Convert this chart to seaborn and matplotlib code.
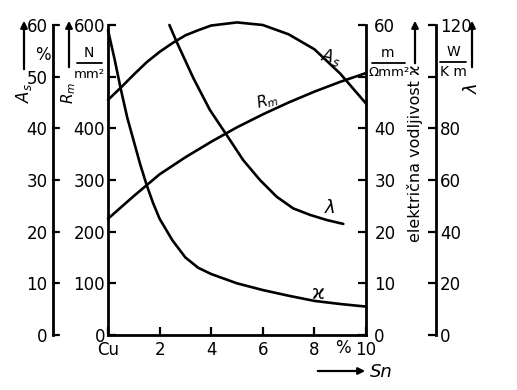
import matplotlib
matplotlib.use("Agg")
import matplotlib.pyplot as plt
from matplotlib.lines import Line2D
import seaborn as sns

# === DATA ===
sn_as = [0, 0.5, 1, 1.5, 2, 2.5, 3, 3.5, 4, 5, 6, 7, 8, 9, 9.5, 10]
as_vals = [45.5, 47.9, 50.4, 52.8, 54.8, 56.5, 58, 59, 59.9, 60.5, 60, 58.2, 55.3, 50.6, 47.7, 44.8]

sn_rm = [0, 1, 2, 3, 4, 5, 6, 7, 8, 9, 10]
rm_vals = [225, 269, 311, 344, 374, 402, 427, 450, 471, 490, 507]

sn_kappa = [0, 0.25, 0.5, 0.75, 1, 1.25, 1.5, 1.75, 2, 2.5, 3, 3.5, 4, 5, 6, 7, 8, 9, 10]
kappa_vals = [59, 53.5, 47.5, 42, 37.5, 33, 29, 25.5, 22.5, 18.3, 15, 13, 11.8, 10, 8.7, 7.6, 6.6, 6.0, 5.5]

sn_lambda = [2.38, 2.66, 3.31, 3.95, 4.6, 5.24, 5.89, 6.54, 7.18, 7.83, 8.48, 9.12]
lambda_vals = [120, 113.5, 99.4, 87.1, 77.4, 67.7, 60, 53.5, 49, 46.5, 44.5, 43]

x_ticks = [0, 2, 4, 6, 8, 10]
x_labels = ["Cu", "2", "4", "6", "8", "10"]

# === STYLE ===
sns.set_style("ticks")
plt.rcParams["font.family"] = ["DejaVu Sans"]
plt.rcParams["mathtext.fontset"] = "dejavusans"
plt.rcParams["text.color"] = "black"
plt.rcParams["axes.edgecolor"] = "black"
plt.rcParams["xtick.color"] = "black"
plt.rcParams["ytick.color"] = "black"

W, H = 517, 390
def fx(px):
    return px / W
def fy(py):
    return 1 - py / H

fig = plt.figure(figsize=(5.17, 3.90), dpi=100)
fig.patch.set_facecolor("white")

# main axes: x = Sn %, left scale = Rm
ax = fig.add_axes([fx(108), fy(335), 258 / W, 310 / H])
ax_k = ax.twinx()
ax_l = ax.twinx()
ax_a = ax.twinx()

line_kw = dict(color="black", linewidth=1.9, clip_on=False)
sns.lineplot(x=sn_rm, y=rm_vals, ax=ax, **line_kw)
sns.lineplot(x=sn_kappa, y=kappa_vals, ax=ax_k, **line_kw)
sns.lineplot(x=sn_lambda, y=lambda_vals, ax=ax_l, **line_kw)
sns.lineplot(x=sn_as, y=as_vals, ax=ax_a, **line_kw)

ax.set_xlim(0, 10)
ax.set_ylim(0, 600)
ax_k.set_ylim(0, 60)
ax_l.set_ylim(0, 120)
ax_a.set_ylim(0, 60)

for a in (ax, ax_k, ax_l, ax_a):
    a.set_xlabel("")
    a.set_ylabel("")
    for s in a.spines.values():
        s.set_visible(False)
        s.set_linewidth(2)
        s.set_color("black")
    a.patch.set_visible(False)

tick_kw = dict(direction="in", length=6, width=1.6, labelsize=12,
               colors="black", labelcolor="black")

# Rm axis (left of plot) + Sn axis; the 500 label is replaced by the unit
ax.spines["left"].set_visible(True)
ax.spines["bottom"].set_visible(True)
ax.set_yticks(range(0, 601, 100))
ax.set_yticklabels(["0", "100", "200", "300", "400", "", "600"])
ax.tick_params(axis="y", pad=2, **tick_kw)
ax.set_xticks(x_ticks)
ax.set_xticklabels(x_labels)
ax.tick_params(axis="x", pad=4, **tick_kw)

# kappa axis (right of plot)
ax_k.spines["right"].set_visible(True)
ax_k.set_yticks(range(0, 61, 10))
ax_k.set_yticklabels(["0", "10", "20", "30", "40", "", "60"])
ax_k.tick_params(axis="y", pad=6, **tick_kw)

# lambda axis (further right)
ax_l.spines["right"].set_visible(True)
ax_l.spines["right"].set_position(("axes", (436 - 108) / 258))
ax_l.set_yticks(range(0, 121, 20))
ax_l.set_yticklabels(["0", "20", "40", "60", "80", "", "120"])
ax_l.tick_params(axis="y", pad=3, **tick_kw)

# As axis (further left), ticks drawn to the right of its spine
ax_a.yaxis.set_ticks_position("left")
ax_a.yaxis.set_label_position("left")
ax_a.spines["left"].set_visible(True)
ax_a.spines["left"].set_position(("axes", (53 - 108) / 258))
ax_a.set_yticks(range(0, 61, 10))
ax_a.tick_params(axis="y", direction="out", length=0, width=1.6, labelsize=12, pad=4,
                 labelcolor="black")
for yv in range(0, 61, 10):
    ax_a.plot([-55 / 25.8, -49 / 25.8], [yv, yv], color="black", lw=1.6, clip_on=False)

# curve labels
ax.text(8.64, 538, r"$A_s$", fontsize=12, ha="center", va="center", rotation=-12)
ax.text(6.16, 452, r"$R_m$", fontsize=11, ha="center", va="center", rotation=15)
ax.text(8.6, 246, r"$\lambda$", fontsize=13, ha="center", va="center")
ax.text(8.14, 81, "ϰ", fontsize=14, ha="center", va="center")

# axis titles, units and arrows
arrow = dict(arrowstyle="-|>", color="black", lw=1.6, mutation_scale=10)
for xa, y0, y1 in [(24, 72, 18), (69, 70, 18), (415, 66, 18), (472, 70, 18)]:
    fig.add_artist(plt.Annotation("", xy=(fx(xa), fy(y1)), xytext=(fx(xa), fy(y0)),
                                  xycoords="figure fraction", arrowprops=arrow))

fig.text(fx(24), fy(93), r"$A_s$", rotation=90, fontsize=12, ha="center", va="center")
fig.text(fx(43), fy(55), "%", fontsize=12, ha="center", va="center")
fig.text(fx(69), fy(93), r"$R_m$", rotation=90, fontsize=11, ha="center", va="center")

fig.text(fx(89), fy(53), "N", fontsize=10, ha="center", va="center")
fig.add_artist(Line2D([fx(77), fx(102)], [fy(63), fy(63)], color="black", lw=1.3))
fig.text(fx(89), fy(74), "mm²", fontsize=9.5, ha="center", va="center")

fig.text(fx(388), fy(53), "m", fontsize=10, ha="center", va="center")
fig.add_artist(Line2D([fx(372), fx(405)], [fy(63), fy(63)], color="black", lw=1.3))
fig.text(fx(389), fy(73), "Ωmm²", fontsize=9.5, ha="center", va="center")

fig.text(fx(415), fy(153), "električna vodljivost ϰ", rotation=90, fontsize=11.5,
         ha="center", va="center")

fig.text(fx(453), fy(52), "W", fontsize=10, ha="center", va="center")
fig.add_artist(Line2D([fx(440), fx(466)], [fy(62), fy(62)], color="black", lw=1.3))
fig.text(fx(453), fy(72), "K m", fontsize=10, ha="center", va="center")
fig.text(fx(472), fy(88), r"$\lambda$", rotation=90, fontsize=13, ha="center", va="center")

# bottom: % mark and Sn arrow
fig.text(fx(343), fy(348), "%", fontsize=12, ha="center", va="center")
fig.add_artist(plt.Annotation("", xy=(fx(368), fy(371)), xytext=(fx(315), fy(371)),
                              xycoords="figure fraction", arrowprops=arrow))
fig.text(fx(381), fy(372), "Sn", fontsize=13, ha="center", va="center", style="italic")

fig.savefig("out.png", dpi=100, facecolor="white")
